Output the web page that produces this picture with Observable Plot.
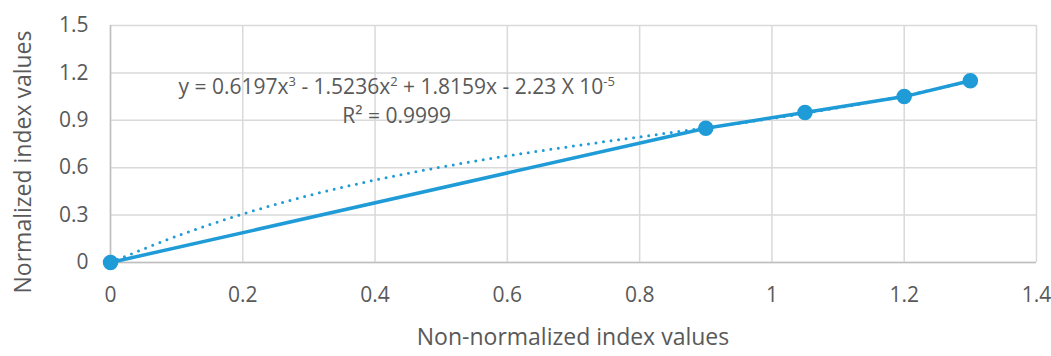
<!DOCTYPE html>
<html>
<head>
<meta charset="utf-8">
<script src="https://cdn.jsdelivr.net/npm/d3@7"></script>
<script src="https://cdn.jsdelivr.net/npm/@observablehq/plot@0.6"></script>
<style>
  html, body { margin: 0; padding: 0; background: #fff; }
  #chart svg { display: block; }
</style>
</head>
<body>
<div id="chart"></div>
<script>
// ---- data ----
const xTicks = [0, 0.2, 0.4, 0.6, 0.8, 1, 1.2, 1.4];
const yTicks = [0, 0.3, 0.6, 0.9, 1.2, 1.5];

const seriesX = [0, 0.9, 1.05, 1.2, 1.3];
const seriesY = [0, 0.85, 0.95, 1.05, 1.15];

// dotted trendline
const trendX = [0, 0.1, 0.2, 0.3, 0.4, 0.5, 0.6, 0.7, 0.8, 0.9, 1.0, 1.1, 1.2, 1.3];
const trendY = [0, 0.167, 0.307, 0.424, 0.522, 0.604, 0.675, 0.737, 0.795, 0.852, 0.912, 0.979, 1.056, 1.147];

const xLabel = "Non-normalized index values";
const yLabel = "Normalized index values";

const series = seriesX.map((x, i) => ({x, y: seriesY[i]}));
const trend = trendX.map((x, i) => ({x, y: trendY[i]}));

const blue = "#1f9bd7";
const textColor = "#595959";
const font = "'Open Sans', sans-serif";
const fmt = d => String(d);

const chart = Plot.plot({
  width: 1051,
  height: 356,
  marginLeft: 110,
  marginRight: 15,
  marginTop: 25,
  marginBottom: 94,
  style: {fontFamily: font, background: "#fff"},
  x: {domain: [0, 1.4]},
  y: {domain: [0, 1.5]},
  marks: [
    Plot.gridX(xTicks, {stroke: "#d9d9d9", strokeOpacity: 1, strokeWidth: 1.5}),
    Plot.gridY(yTicks, {stroke: "#d9d9d9", strokeOpacity: 1, strokeWidth: 1.5}),
    Plot.ruleX([0], {stroke: "#bfbfbf", strokeWidth: 1.5}),
    Plot.ruleY([0], {stroke: "#bfbfbf", strokeWidth: 1.5}),
    Plot.axisX(xTicks, {tickSize: 0, tickPadding: 25, fontSize: 21, fill: textColor, label: null, tickFormat: fmt}),
    Plot.axisY(yTicks, {tickSize: 0, tickPadding: 22, fontSize: 21, fill: textColor, label: null, tickFormat: fmt}),
    Plot.line(series, {x: "x", y: "y", stroke: blue, strokeWidth: 3.5}),
    Plot.line(trend, {x: "x", y: "y", stroke: blue, strokeWidth: 3, curve: "catmull-rom",
      strokeDasharray: "0,7.6", strokeLinecap: "round"}),
    Plot.dot(series, {x: "x", y: "y", r: 7, fill: blue, stroke: blue})
  ]
});

document.getElementById("chart").appendChild(chart);

const svg = d3.select(chart);
const xs = chart.scale("x"), ys = chart.scale("y");

// axis titles
svg.append("text")
  .attr("x", (110 + 1036) / 2).attr("y", 345)
  .attr("text-anchor", "middle")
  .attr("font-family", font).attr("font-size", 23).attr("fill", textColor)
  .text(xLabel);

svg.append("text")
  .attr("transform", `translate(31,162) rotate(-90)`)
  .attr("text-anchor", "middle")
  .attr("font-family", font).attr("font-size", 23).attr("fill", textColor)
  .text(yLabel);

// trendline equation
const eqParts = [["y = 0.6197x", false], ["3", true], [" - 1.5236x", false], ["2", true],
  [" + 1.8159x - 2.23 X 10", false], ["-5", true]];
const eq = svg.append("text")
  .attr("x", xs.apply(0.4335)).attr("y", ys.apply(1.063))
  .attr("text-anchor", "middle")
  .attr("font-family", font).attr("font-size", 21).attr("fill", textColor);
let raised = false;
eqParts.forEach(([s, sup]) => {
  const t = eq.append("tspan").text(s);
  if (sup && !raised) { t.attr("dy", -8).attr("font-size", 13); raised = true; }
  else if (!sup && raised) { t.attr("dy", 8); raised = false; }
  else if (sup) t.attr("font-size", 13);
});

svg.append("text")
  .attr("x", xs.apply(0.4335)).attr("y", ys.apply(0.88))
  .attr("text-anchor", "middle")
  .attr("font-family", font).attr("font-size", 21).attr("fill", textColor)
  .text("R² = 0.9999");
</script>
</body>
</html>
